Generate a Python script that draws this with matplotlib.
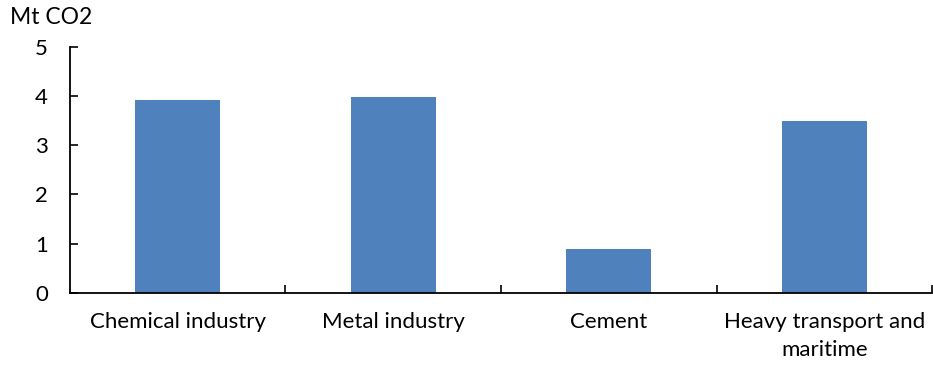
import matplotlib
matplotlib.use("Agg")
import matplotlib.pyplot as plt
import numpy as np

categories = ["Chemical industry", "Metal industry", "Cement", "Heavy transport and\nmaritime"]
emissions = [3.92, 3.98, 0.9, 3.5]
yticks = [0, 1, 2, 3, 4, 5]

plt.rcParams["font.family"] = ["Lato", "DejaVu Sans"]

fig = plt.figure(figsize=(9.33, 3.67), dpi=100)
ax = fig.add_axes([0.075, 0.2016, 0.924, 0.6714])

x = np.arange(len(categories))
ax.bar(x, emissions, width=0.395, color="#4F81BD", zorder=2)

ax.set_xlim(-0.5, len(categories) - 0.5)
ax.set_ylim(0, 5)
ax.set_yticks(yticks)
ax.set_yticklabels([str(v) for v in yticks], fontsize=16)

# category labels sit between tick marks placed at category boundaries
ax.set_xticks(x)
ax.set_xticklabels(categories, fontsize=16, linespacing=1.5)
ax.tick_params(axis="x", length=0, pad=14)
ax.set_xticks(np.arange(len(categories)) + 0.5, minor=True)
ax.tick_params(axis="x", which="minor", length=6, direction="in", width=1.2, top=False)
ax.tick_params(axis="y", length=6, direction="in", width=1.2, pad=16)

for side in ["top", "right"]:
    ax.spines[side].set_visible(False)
for side in ["left", "bottom"]:
    ax.spines[side].set_linewidth(1.3)
    ax.spines[side].set_color("black")

fig.text(0.011, 0.951, "Mt CO2", fontsize=16.5, ha="left", va="center")

fig.savefig("out.png", dpi=100)
